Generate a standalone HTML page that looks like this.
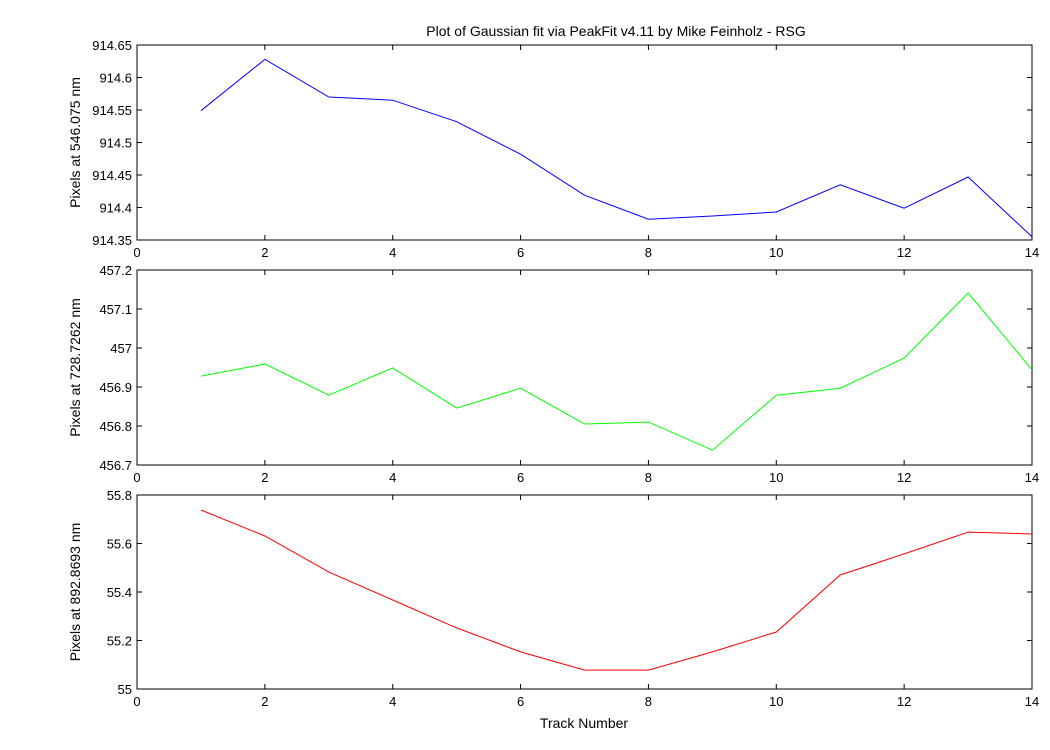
<!DOCTYPE html>
<html><head><meta charset="utf-8"><style>
html,body{margin:0;padding:0;background:#fff;}
svg{display:block;font-family:"Liberation Sans",Arial,sans-serif;}
</style></head><body>
<svg id="chart" width="1050" height="750" viewBox="0 0 1050 750">
<rect width="1050" height="750" fill="#fff"/>
<text x="616" y="36" font-size="14" text-anchor="middle">Plot of Gaussian fit via PeakFit v4.11 by Mike Feinholz - RSG</text>
<text x="584" y="728" font-size="14" text-anchor="middle">Track Number</text>
<g id="plots"></g>
</svg>
<script>
const tracks = [1,2,3,4,5,6,7,8,9,10,11,12,13,14];
const series546 = [914.549,914.628,914.570,914.565,914.532,914.482,914.419,914.382,914.387,914.393,914.435,914.399,914.447,914.355];
const series728 = [456.928,456.959,456.879,456.949,456.846,456.897,456.805,456.810,456.738,456.879,456.897,456.974,457.141,456.944];
const series892 = [55.738,55.631,55.482,55.367,55.252,55.153,55.078,55.078,55.153,55.235,55.470,55.557,55.647,55.639];
const xTicks = [0,2,4,6,8,10,12,14];
const yTicks546 = ["914.35","914.4","914.45","914.5","914.55","914.6","914.65"];
const yTicks728 = ["456.7","456.8","456.9","457","457.1","457.2"];
const yTicks892 = ["55","55.2","55.4","55.6","55.8"];

const NS = "http://www.w3.org/2000/svg";
const root = document.getElementById('plots');
function mk(tag, attrs, parent){const e=document.createElementNS(NS,tag);for(const k in attrs)e.setAttribute(k,attrs[k]);parent.appendChild(e);return e;}

const panels = [
 {top:45,bottom:240,ymin:914.35,ymax:914.65,ticks:yTicks546,data:series546,color:"#0000ff",label:"Pixels at 546.075 nm",name:"panel-546"},
 {top:270,bottom:465,ymin:456.7,ymax:457.2,ticks:yTicks728,data:series728,color:"#00ff00",label:"Pixels at 728.7262 nm",name:"panel-728"},
 {top:495,bottom:689,ymin:55,ymax:55.8,ticks:yTicks892,data:series892,color:"#ff0000",label:"Pixels at 892.8693 nm",name:"panel-892"}
];
const L=137,R=1032,xmin=0,xmax=14;
const xs=v=>L+(v-xmin)/(xmax-xmin)*(R-L);

panels.forEach(p=>{
 const g=mk('g',{},root);
 
 
 const ys=v=>p.bottom-(v-p.ymin)/(p.ymax-p.ymin)*(p.bottom-p.top);
 const box=mk('rect',{x:L,y:p.top,width:R-L,height:p.bottom-p.top,fill:"none",stroke:"#000","stroke-width":1},g);
 
 
 xTicks.forEach(t=>{
  const x=xs(t);
  mk('line',{x1:x,x2:x,y1:p.bottom,y2:p.bottom-5,stroke:"#000"},g);
  mk('line',{x1:x,x2:x,y1:p.top,y2:p.top+5,stroke:"#000"},g);
  const tx=mk('text',{x:x,y:p.bottom+17,"font-size":13,"text-anchor":"middle"},g);
  tx.textContent=t;
  
  
 });
 p.ticks.forEach(s=>{
  const y=ys(parseFloat(s));
  mk('line',{x1:L,x2:L+5,y1:y,y2:y,stroke:"#000"},g);
  mk('line',{x1:R,x2:R-5,y1:y,y2:y,stroke:"#000"},g);
  const tx=mk('text',{x:L-5,y:y+5,"font-size":13,"text-anchor":"end"},g);
  tx.textContent=s;
  
  
 });
 const cy=(p.top+p.bottom)/2;
 const lab=mk('text',{x:0,y:0,"font-size":14,"text-anchor":"middle",transform:`translate(80,${cy}) rotate(-90)`},g);
 lab.textContent=p.label;
 
 
 const pts=p.data.map((v,i)=>xs(tracks[i]).toFixed(1)+","+ys(v).toFixed(1)).join(" ");
 const line=mk('polyline',{points:pts,fill:"none",stroke:p.color,"stroke-width":1},g);
 
 
});
</script>
</body></html>
